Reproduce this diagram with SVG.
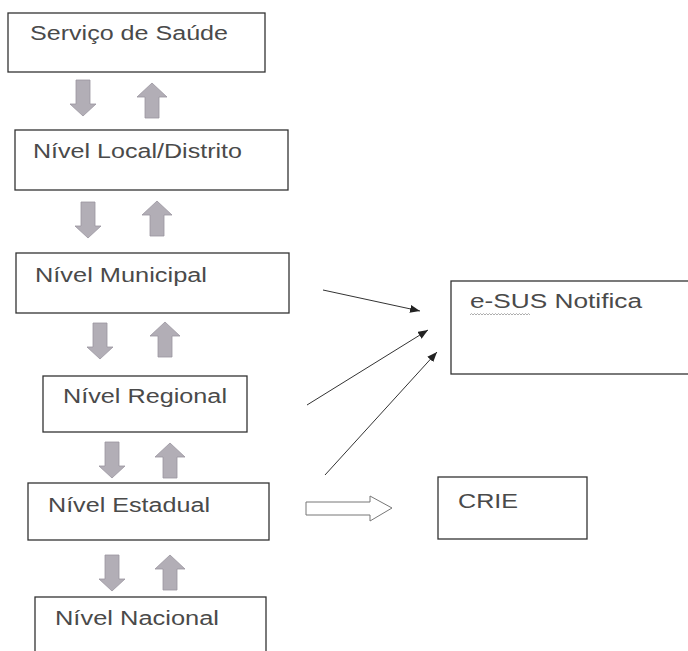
<svg xmlns="http://www.w3.org/2000/svg" width="688" height="651" viewBox="0 0 688 651">
<style>
.box{fill:#fff;stroke:#333;stroke-width:1.3}
.lbl{font-family:"Liberation Sans",Arial,sans-serif;font-size:20px;fill:#4a4a4a}
.blk{fill:#b2aeb6;stroke:#9a96a0;stroke-width:0.8}
.con{stroke:#333;stroke-width:1;fill:none}
</style>
<defs>
<path id="dn" d="M6,0 H20 V24 H26 L13,36 L0,24 H6 Z"/>
<path id="up" d="M15,0 L30,14 H22 V35 H8 V14 H0 Z"/>
<marker id="ah" viewBox="0 0 10 8" refX="10" refY="4" markerWidth="10" markerHeight="8" markerUnits="userSpaceOnUse" orient="auto">
<path d="M0,0 L10,4 L0,8 Z" fill="#222"/>
</marker>
</defs>
<rect width="688" height="651" fill="#fff"/>

<g id="servico"><rect class="box" x="8" y="13" width="257" height="59"/><text class="lbl" x="30" y="40" textLength="198" lengthAdjust="spacingAndGlyphs">Serviço de Saúde</text></g>
<g id="local"><rect class="box" x="15" y="130" width="273" height="60"/><text class="lbl" x="33" y="158" textLength="209" lengthAdjust="spacingAndGlyphs">Nível Local/Distrito</text></g>
<g id="municipal"><rect class="box" x="16" y="253" width="273" height="60"/><text class="lbl" x="35" y="282" textLength="172" lengthAdjust="spacingAndGlyphs">Nível Municipal</text></g>
<g id="regional"><rect class="box" x="43" y="376" width="204" height="56"/><text class="lbl" x="63" y="403" textLength="164" lengthAdjust="spacingAndGlyphs">Nível Regional</text></g>
<g id="estadual"><rect class="box" x="28" y="483" width="241" height="57"/><text class="lbl" x="48" y="512" textLength="162" lengthAdjust="spacingAndGlyphs">Nível Estadual</text></g>
<g id="nacional"><rect class="box" x="35" y="597" width="231" height="70"/><text class="lbl" x="55" y="625" textLength="164" lengthAdjust="spacingAndGlyphs">Nível Nacional</text></g>
<g id="esus"><rect class="box" x="451" y="281" width="260" height="93"/><text class="lbl" x="470" y="308" textLength="172" lengthAdjust="spacingAndGlyphs">e-SUS Notifica</text>
<path d="M470,315 l1.5,-1.5 l1.5,1.5 l1.5,-1.5 l1.5,1.5 l1.5,-1.5 l1.5,1.5 l1.5,-1.5 l1.5,1.5 l1.5,-1.5 l1.5,1.5 l1.5,-1.5 l1.5,1.5 l1.5,-1.5 l1.5,1.5 l1.5,-1.5 l1.5,1.5 l1.5,-1.5 l1.5,1.5 l1.5,-1.5 l1.5,1.5 l1.5,-1.5 l1.5,1.5 l1.5,-1.5 l1.5,1.5 l1.5,-1.5 l1.5,1.5 l1.5,-1.5 l1.5,1.5 l1.5,-1.5 l1.5,1.5 l1.5,-1.5 l1.5,1.5 l1.5,-1.5 l1.5,1.5 l1.5,-1.5 l1.5,1.5 l1.5,-1.5 l1.5,1.5 l1.5,-1.5 l1.5,1.5" fill="none" stroke="#999" stroke-width="0.8"/></g>
<g id="crie"><rect class="box" x="438" y="477" width="149" height="62"/><text class="lbl" x="458" y="508" textLength="60" lengthAdjust="spacingAndGlyphs">CRIE</text></g>

<g id="connectors">
<use href="#dn" class="blk" x="70" y="80"/><use href="#up" class="blk" x="137" y="83"/>
<use href="#dn" class="blk" x="75" y="202"/><use href="#up" class="blk" x="142" y="201"/>
<use href="#dn" class="blk" x="87" y="323"/><use href="#up" class="blk" x="150" y="322"/>
<use href="#dn" class="blk" x="99" y="442"/><use href="#up" class="blk" x="155" y="443"/>
<use href="#dn" class="blk" x="99" y="555"/><use href="#up" class="blk" x="155" y="555"/>
<line class="con" x1="323" y1="290" x2="420" y2="311" marker-end="url(#ah)"/>
<line class="con" x1="307" y1="405" x2="428" y2="330" marker-end="url(#ah)"/>
<line class="con" x1="325" y1="475" x2="437" y2="352" marker-end="url(#ah)"/>
<path d="M306,502 H370 V496 L392,508 L370,521 V515 H306 Z" fill="#fff" stroke="#777" stroke-width="1"/>
</g>
</svg>
